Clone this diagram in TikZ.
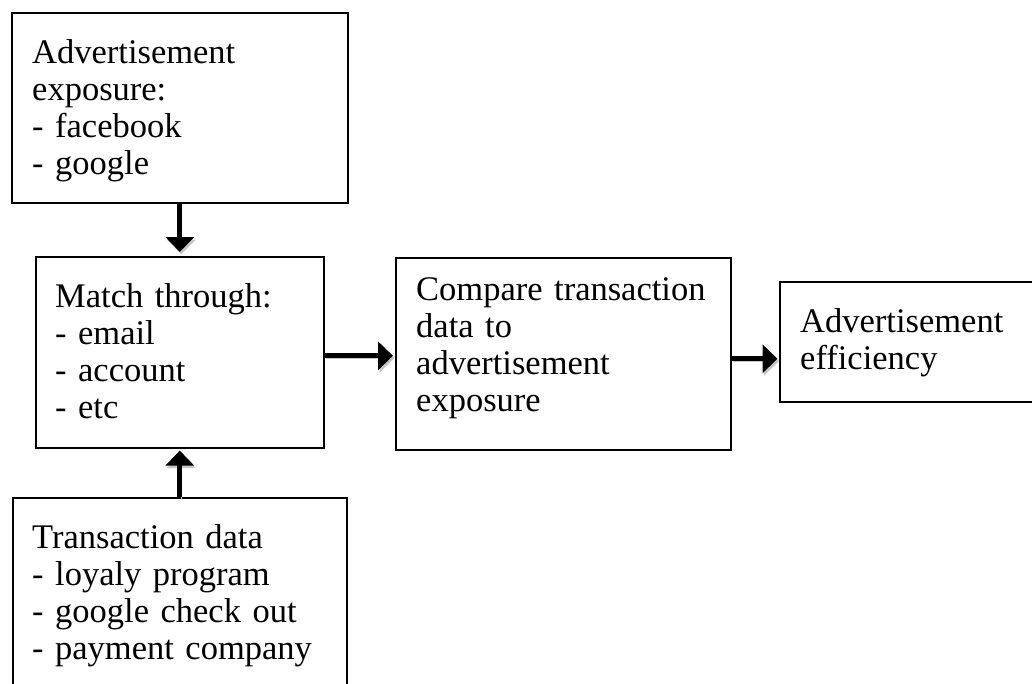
\documentclass[tikz,border=0pt]{standalone}
\usepackage{fontspec}
\setmainfont{Liberation Serif}
\usetikzlibrary{arrows.meta}
\tikzset{
  box/.style={draw=black, line width=1.6pt, rectangle, inner sep=0pt, anchor=north west},
  boxtext/.style={anchor=base west, inner sep=0pt, text width=420pt, align=left,
    font=\fontsize{34.5}{37}\selectfont},
  flow/.style={line width=5pt, -{Triangle[width=28pt,length=15pt]},
    preaction={draw=black!22, transform canvas={shift={(1.5pt,-2.5pt)}}}},
}
\begin{document}
\begin{tikzpicture}[x=1pt,y=-1pt]
\useasboundingbox (0,0) rectangle (1032,683);
\clip (0,0) rectangle (1032,683);

% boxes
\node[box, minimum width=336pt, minimum height=190pt] (adv)   at (11,12)  {};
\node[box, minimum width=288pt, minimum height=191pt] (match) at (35,256)  {};
\node[box, minimum width=334pt, minimum height=230pt] (trans) at (12,497)  {};
\node[box, minimum width=335pt, minimum height=192pt] (cmp)   at (395,257) {};
\node[box, minimum width=266pt, minimum height=120pt] (eff)   at (779,281) {};

% box contents
\node[boxtext] (advtext)   at (32,63)   {Advertisement\\exposure:\\- facebook\\- google};
\node[boxtext] (matchtext) at (55,307)  {Match through:\\- email\\- account\\- etc};
\node[boxtext] (transtext) at (32,548)  {Transaction data\\- loyaly program\\- google check out\\- payment company};
\node[boxtext] (cmptext)   at (416,300) {Compare transaction\\data to\\advertisement\\exposure};
\node[boxtext] (efftext)   at (800,332) {Advertisement\\efficiency};

% connectors
\draw[flow] (adv.south) -- ([yshift=4pt]match.north);
\draw[flow] (trans.north) -- ([yshift=-2pt]match.south);
\draw[flow, shorten >=2pt] ([yshift=-3.5pt]match.east) -- ([yshift=-3.5pt]match.east -| cmp.west);
\draw[flow, shorten >=1.5pt] ([yshift=-5pt]cmp.east) -- ([yshift=-5pt]cmp.east -| eff.west);
\end{tikzpicture}
\end{document}
